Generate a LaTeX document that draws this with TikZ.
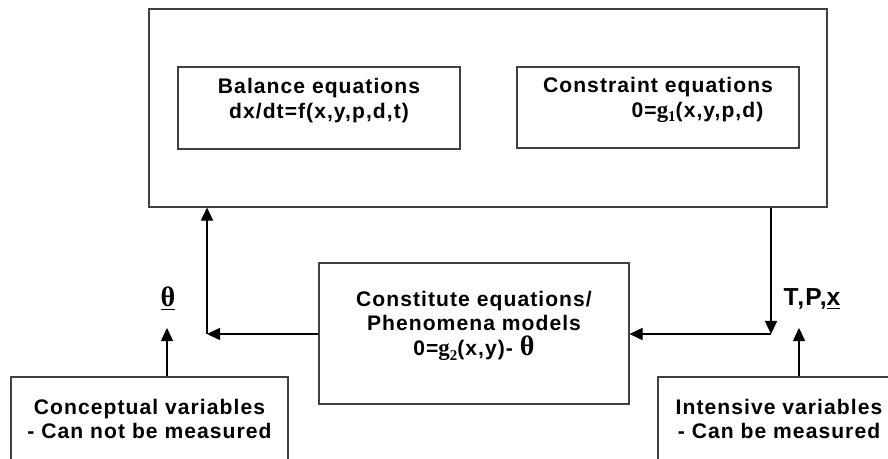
\documentclass[tikz,border=0pt]{standalone}
\usepackage{fontspec}
\setmainfont{Liberation Sans}[LetterSpace=5]
\newfontfamily\tms{Liberation Serif}
\usetikzlibrary{arrows.meta,fit,positioning}

\begin{document}
\begin{tikzpicture}[x=0.02cm,y=-0.02cm]
            \tikzset{
                box/.style={draw=black!75,line width=0.6pt,inner sep=0pt,align=center,
                    font=\fontsize{12}{14}\selectfont\bfseries},
                arr/.style={draw,line width=0.6pt,-{Triangle[length=7.5pt,width=7pt]}},
                lbl/.style={font=\fontsize{14}{16}\selectfont\bfseries,inner sep=1pt}}
            \def\myg#1{{\tms\bfseries\fontsize{13}{14}\selectfont g\raisebox{-0.45ex}{\fontsize{8.5}{8}\selectfont #1}}}
            \def\mytheta{{\tms\bfseries\fontsize{16}{14}\selectfont θ}}
            \useasboundingbox (0,0) rectangle (888,459);
            % model block
            \node[box,fit={(149,9) (827,207)}] (model) {};
            \node[box,fit={(178,67) (460,149)}] (balance) {Balance equations\\dx/dt=f(x,y,p,d,t)};
            \node[box,fit={(517,67) (799,148)}] (constraint) {Constraint equations\\\hspace*{45pt}0=\myg{1}(x,y,p,d)};
            \node[box,fit={(319,263) (629,404)}] (constitute) {Constitute equations/\\Phenomena models\\0=\myg{2}(x,y)- \mytheta\hspace*{27pt}};
            \node[box,fit={(11,377) (288,476)}] (conceptual) {Conceptual variables\\- Can not be measured};
            \node[box,fit={(658,377) (900,476)}] (intensive) {Intensive variables\\- Can be measured};
            % variables
            \node[lbl] (theta) at (168,299) {\underline{\mytheta}};
            \node[lbl] (tpx) at (812,299) {T,P,\underline{x}};
            \coordinate (lc) at (207,334);
            \coordinate (rc) at (771,334);
            \coordinate (thin) at (167,328);
            \coordinate (tin) at (799,328);
            \draw[arr] (constitute.west |- lc) -- (lc);
            \draw[arr] (lc) -- (lc |- model.south);
            \draw[arr] (rc |- model.south) -- (rc);
            \draw[arr] (rc) -- (constitute.east |- rc);
            \draw[arr] (conceptual.north -| thin) -- (thin);
            \draw[arr] (intensive.north -| tin) -- (tin);
        \end{tikzpicture}
\end{document}
